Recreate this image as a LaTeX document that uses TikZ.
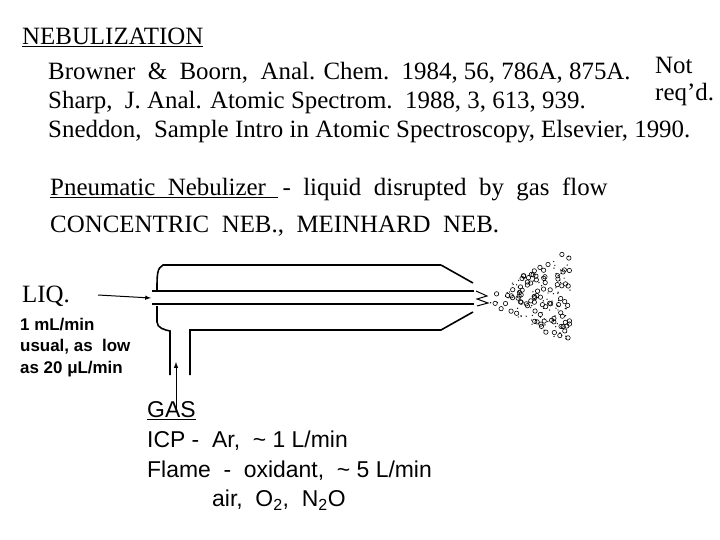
\documentclass[tikz,border=0pt]{standalone}
\usepackage{fontspec}
\setmainfont{Liberation Serif}
\newfontfamily\arialf{Liberation Sans}
\begin{document}
\begin{tikzpicture}[x=1bp,y=-1bp,
  txt/.style={anchor=west,inner sep=0pt,font=\fontsize{25}{28}\selectfont},
  sans/.style={anchor=west,inner sep=0pt,font=\arialf\fontsize{23}{26}\selectfont},
  small/.style={anchor=west,inner sep=0pt,font=\arialf\bfseries\fontsize{17}{20}\selectfont},
  wall/.style={line width=1.6pt},
  arr/.style={-latex,line width=1pt}]
\useasboundingbox (0,0) rectangle (720,540);
\node[txt] (t) at (22,37) {\underline{NEBULIZATION}};
\node[txt] (r1) at (48,73) {Browner\ \ \&\ \ Boorn,\ \ Anal. Chem.\ \ 1984, 56, 786A, 875A.};
\node[txt] (r2) at (48,103) {Sharp,\ \ J. Anal. Atomic Spectrom.\ \ 1988, 3, 613, 939.};
\node[txt] (r3) at (48,132) {Sneddon,\ \ Sample Intro in Atomic Spectroscopy, Elsevier, 1990.};
\node[txt] (n1) at (655,65) {Not};
\node[txt] (n2) at (655,95) {req'd.};
\node[txt] (p) at (50,189) {\underline{Pneumatic\ \ Nebulizer\ \ }\,-\ \ liquid\ \ disrupted\ \ by\ \ gas\ \ flow};
\node[txt] (c) at (50,226) {CONCENTRIC\ \ NEB.,\ \ MEINHARD\ \ NEB.};
\node[txt] (liq) at (22,296) {LIQ.};
\node[small] (s1) at (20,325) {1 mL/min};
\node[small] (s2) at (20,347) {usual, as\ \ low};
\node[small] (s3) at (20,369) {as 20 μL/min};
\node[sans] (g1) at (147,411) {\underline{GAS}};
\node[sans] (g2) at (147,441) {ICP -\ \ Ar,\ \ \textasciitilde\ 1 L/min};
\node[sans] (g3) at (147,471) {Flame\ \ -\ \ oxidant,\ \ \textasciitilde\ 5 L/min};
\node[sans] (g4) at (212,500) {air,\ \ O\textsubscript{2},\ \ N\textsubscript{2}O};
% nebulizer body
\draw[wall] (441,265) -- (163,265) .. controls (157,268) and (157,275) .. (157,290);
\draw[wall] (441,265) -- (473,283);
\draw[wall] (152,291) -- (474,291);
\draw[wall] (152,304) -- (474,304);
\draw[wall] (157,306) -- (157,322) .. controls (157,328) and (165,330) .. (170,331) -- (170,375);
\draw[wall] (190,375) -- (190,330) -- (441,330) -- (473,312);
\coordinate (la) at (98,295);
\coordinate (lb) at (151,298);
\draw[arr] (la) -- (lb);
\coordinate (ga) at (176,410);
\coordinate (gb) at (176,362);
\draw[arr] (ga) -- (gb);
\draw[line width=1pt] (476,291) -- (487,296) -- (477,299) -- (488,303) -- (477,306);
% spray
\pgfmathsetseed{7}
\foreach \i in {1,...,170}{
  \pgfmathsetmacro{\u}{sqrt(rnd)}\pgfmathsetmacro{\v}{rnd}
  \pgfmathsetmacro{\px}{490+80*\u}
  \pgfmathsetmacro{\py}{298+(-6-42*\u)*(2*\v-1)}
  \pgfmathsetmacro{\kind}{rnd}
  \ifdim\kind pt<0.5pt
    \draw[line width=0.6pt] (\px,\py) circle (2.2);
  \else
    \fill (\px,\py) circle (0.7);
  \fi}
\end{tikzpicture}
\end{document}
